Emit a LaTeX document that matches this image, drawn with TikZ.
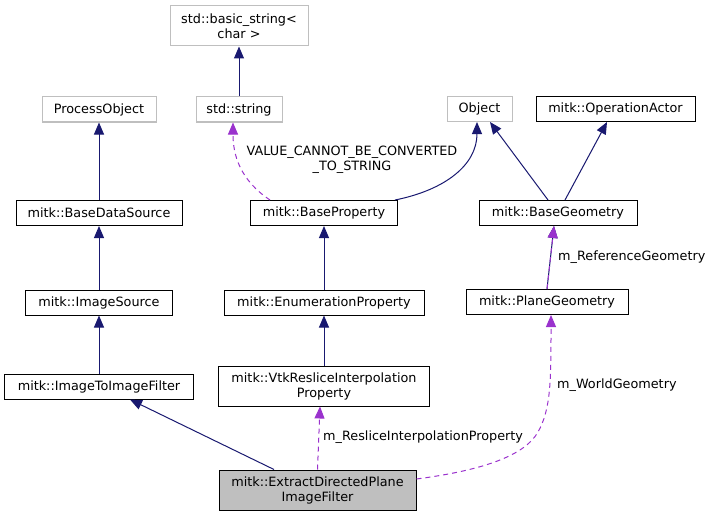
\documentclass[tikz,border=0pt]{standalone}
\usepackage{fontspec}
\setmainfont{DejaVu Sans}
\usetikzlibrary{arrows.meta}
\definecolor{edgeblue}{HTML}{191970}
\definecolor{edgepurple}{HTML}{9A32CD}
\definecolor{boxgray}{HTML}{BFBFBF}

\begin{document}
\begin{tikzpicture}[x=1pt, y=-1pt,
  cls/.style={draw=black, line width=1pt, fill=white, inner sep=0pt, align=center,
    font=\fontsize{12.8}{15}\selectfont, minimum height=25pt},
  extcls/.style={cls, draw=boxgray},
  inherit/.style={draw=edgeblue, line width=1pt, -{Triangle[length=12pt,width=10pt]}},
  usage/.style={draw=edgepurple, line width=1pt, dash pattern=on 5pt off 4pt,
    -{Triangle[length=12pt,width=10pt]}},
  lbl/.style={inner sep=0pt, align=center, font=\fontsize{12.8}{15}\selectfont}]
  \useasboundingbox (0,0) rectangle (714,516);

  \node[extcls, minimum width=138pt, minimum height=40pt] (bstr) at (239,26) {std::basic\_string<\\char >};
  \node[extcls, minimum width=114pt] (procobj) at (99,109.5) {ProcessObject};
  \node[extcls, minimum width=86pt] (sstr) at (239,109.5) {std::string};
  \node[extcls, minimum width=65pt] (obj) at (479.5,109) {Object};
  \node[cls, minimum width=159pt] (opactor) at (615.5,109) {mitk::OperationActor};

  \node[cls, minimum width=166pt] (bds) at (99,213) {mitk::BaseDataSource};
  \node[cls, minimum width=147pt] (bprop) at (324,213) {mitk::BaseProperty};
  \node[cls, minimum width=158pt] (bgeo) at (558,213) {mitk::BaseGeometry};

  \node[cls, minimum width=147pt] (imgsrc) at (99,302.5) {mitk::ImageSource};
  \node[cls, minimum width=200pt] (enumprop) at (324,302.5) {mitk::EnumerationProperty};
  \node[cls, minimum width=162pt] (plane) at (547,302) {mitk::PlaneGeometry};

  \node[cls, minimum width=189pt] (i2i) at (99,386.5) {mitk::ImageToImageFilter};
  \node[cls, minimum width=211pt, minimum height=40pt] (vtkprop) at (324,386) {mitk::VtkResliceInterpolation\\Property};
  \node[cls, fill=boxgray, minimum width=197pt, minimum height=40pt] (extract) at (317.5,490) {mitk::ExtractDirectedPlane\\ImageFilter};

  \draw[inherit] (sstr) -- (bstr);
  \draw[inherit] (bds) -- (procobj);
  \draw[inherit] (imgsrc) -- (bds);
  \draw[inherit] (i2i) -- (imgsrc);
  \draw[inherit] ([xshift=-43.5]extract.north) -- ([xshift=31]i2i.south);
  \draw[inherit] (enumprop) -- (bprop);
  \draw[inherit] (vtkprop) -- (enumprop);
  \draw[inherit] ([xshift=-10]bgeo.north) -- ([xshift=10.5]obj.south);
  \draw[inherit] ([xshift=7]bgeo.north) -- ([xshift=-8.5]opactor.south);
  \draw[inherit] ([xshift=71]bprop.north) .. controls (445,190) and (477,165) .. ([xshift=-2.5]obj.south);
  \draw[inherit] (plane.north) -- ([xshift=-4]bgeo.south);

  \draw[usage] ([xshift=-54]bprop.north) .. controls (240,180) and (233,155) .. ([xshift=-6]sstr.south);
  \draw[usage] (plane.north) -- ([xshift=-4]bgeo.south);
  \draw[usage] (extract.north) -- ([xshift=-4]vtkprop.south);
  \draw[usage] ([yshift=11]extract.east) .. controls (485,470) and (525,455) .. (538,432)
    .. controls (551,409) and (551,380) .. ([xshift=4]plane.south);

  \node[lbl] (lblvalue) at (352,160) {VALUE\_CANNOT\_BE\_CONVERTED\\\_TO\_STRING};
  \node[lbl, anchor=west] (lblref) at (558,257) {m\_ReferenceGeometry};
  \node[lbl, anchor=west] (lblreslice) at (323,437) {m\_ResliceInterpolationProperty};
  \node[lbl, anchor=west] (lblworld) at (557,385) {m\_WorldGeometry};
\end{tikzpicture}
\end{document}
